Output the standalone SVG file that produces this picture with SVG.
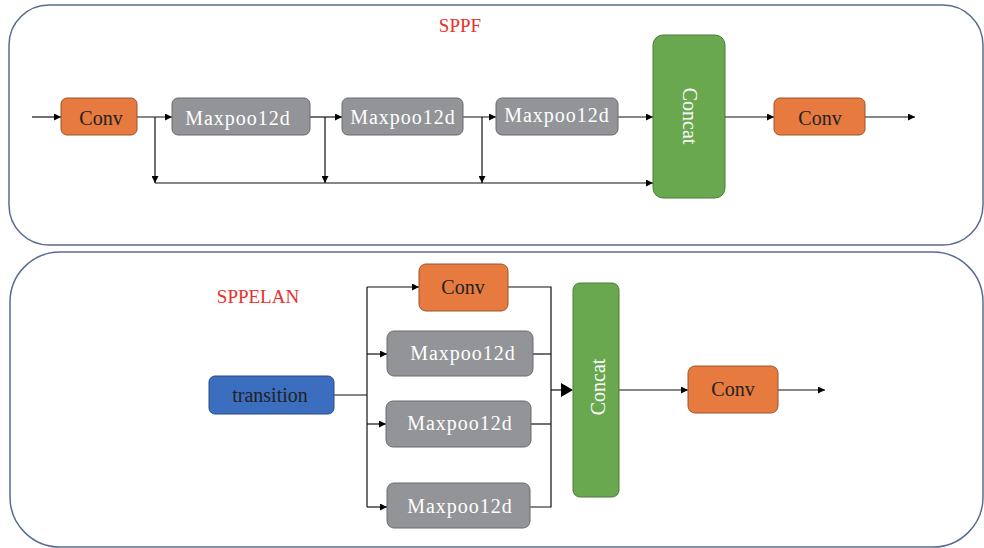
<svg xmlns="http://www.w3.org/2000/svg" width="984" height="548" viewBox="0 0 984 548">
<defs>
<marker id="arr" viewBox="0 0 10 10" refX="10" refY="5" markerWidth="9" markerHeight="7" markerUnits="userSpaceOnUse" orient="auto">
<path d="M0,0 L10,5 L0,10 z" fill="#000"/>
</marker>
</defs>
<style>
.panel{fill:#fff;stroke:#5a6c8f;stroke-width:1.5}
.conv{fill:#e67a3f;stroke:#9a5530;stroke-width:1}
.pool{fill:#939497;stroke:#6b6b6d;stroke-width:1}
.cat{fill:#6aa84f;stroke:#4c7a38;stroke-width:1}
.tr{fill:#3b6ebf;stroke:#2a4c86;stroke-width:1}
.t{font-family:"Liberation Serif","Times New Roman",serif;font-size:20px;text-anchor:middle;dominant-baseline:central}
.dk{fill:#222}
.wh{fill:#fff}
.red{fill:#e8302a;font-size:19px}
.ln{fill:none;stroke:#111;stroke-width:1.2}
</style>
<rect class="panel" x="9" y="5" width="974" height="240" rx="40" ry="40"/>
<rect class="panel" x="10" y="252" width="973" height="295" rx="50" ry="50"/>
<text class="t red" x="460" y="25">SPPF</text>
<text class="t red" x="258" y="296">SPPELAN</text>
<g id="connectors">
<line class="ln" x1="32" y1="117" x2="61" y2="117" marker-end="url(#arr)"/>
<line class="ln" x1="137" y1="117" x2="172" y2="117" marker-end="url(#arr)"/>
<line class="ln" x1="310" y1="117" x2="342" y2="117" marker-end="url(#arr)"/>
<line class="ln" x1="463" y1="117" x2="496" y2="117" marker-end="url(#arr)"/>
<line class="ln" x1="618" y1="117" x2="653" y2="117" marker-end="url(#arr)"/>
<line class="ln" x1="725" y1="117" x2="774" y2="117" marker-end="url(#arr)"/>
<line class="ln" x1="865" y1="117" x2="915" y2="117" marker-end="url(#arr)"/>
<line class="ln" x1="155" y1="117" x2="155" y2="183" marker-end="url(#arr)"/>
<line class="ln" x1="325" y1="117" x2="325" y2="183" marker-end="url(#arr)"/>
<line class="ln" x1="482" y1="117" x2="482" y2="183" marker-end="url(#arr)"/>
<line class="ln" x1="155" y1="183" x2="653" y2="183" marker-end="url(#arr)"/>
<line class="ln" x1="334" y1="395" x2="367" y2="395" stroke-width="2"/>
<line class="ln" x1="367" y1="287" x2="367" y2="507"/>
<line class="ln" x1="367" y1="287" x2="419" y2="287" marker-end="url(#arr)"/>
<line class="ln" x1="367" y1="354" x2="387" y2="354" marker-end="url(#arr)"/>
<line class="ln" x1="367" y1="424" x2="386" y2="424" marker-end="url(#arr)"/>
<line class="ln" x1="367" y1="507" x2="387" y2="507" marker-end="url(#arr)"/>
<polyline class="ln" points="508,287 551,287 551,507 530,507"/>
<line class="ln" x1="533" y1="354" x2="551" y2="354"/>
<line class="ln" x1="531" y1="424" x2="551" y2="424"/>
<line class="ln" x1="551" y1="390" x2="563" y2="390" stroke-width="5"/>
<path d="M561,383 L573,390 L561,397 z" fill="#000"/>
<line class="ln" x1="619" y1="390" x2="688" y2="390" marker-end="url(#arr)"/>
<line class="ln" x1="778" y1="390" x2="825" y2="390" marker-end="url(#arr)"/>
</g>
<g id="sppf-conv1"><rect class="conv" x="61" y="98" width="76" height="37" rx="6"/><text class="t dk" x="101" y="118">Conv</text></g>
<g id="sppf-pool1"><rect class="pool" x="172" y="98" width="138" height="37" rx="6"/><text class="t wh" x="238" y="118" letter-spacing="1">Maxpoo12d</text></g>
<g id="sppf-pool2"><rect class="pool" x="342" y="98" width="121" height="37" rx="6"/><text class="t wh" x="403" y="117" letter-spacing="1">Maxpoo12d</text></g>
<g id="sppf-pool3"><rect class="pool" x="496" y="98" width="122" height="37" rx="6"/><text class="t wh" x="557" y="115" letter-spacing="1">Maxpoo12d</text></g>
<g id="sppf-concat"><rect class="cat" x="653" y="35" width="72" height="163" rx="10"/><text class="t wh" transform="translate(690,116) rotate(90)" x="0" y="0">Concat</text></g>
<g id="sppf-conv2"><rect class="conv" x="774" y="98" width="91" height="37" rx="6"/><text class="t dk" x="820" y="118">Conv</text></g>
<g id="elan-transition"><rect class="tr" x="209" y="376" width="125" height="38" rx="6"/><text class="t dk" x="270" y="395">transition</text></g>
<g id="elan-conv1"><rect class="conv" x="419" y="264" width="89" height="47" rx="7"/><text class="t dk" x="463" y="287">Conv</text></g>
<g id="elan-pool1"><rect class="pool" x="387" y="331" width="146" height="45" rx="7"/><text class="t wh" x="463" y="353" letter-spacing="1">Maxpoo12d</text></g>
<g id="elan-pool2"><rect class="pool" x="386" y="401" width="145" height="46" rx="7"/><text class="t wh" x="460" y="423" letter-spacing="1">Maxpoo12d</text></g>
<g id="elan-pool3"><rect class="pool" x="387" y="483" width="143" height="45" rx="7"/><text class="t wh" x="460" y="506" letter-spacing="1">Maxpoo12d</text></g>
<g id="elan-concat"><rect class="cat" x="573" y="283" width="46" height="214" rx="7"/><text class="t wh" transform="translate(598,387) rotate(-90)" x="0" y="0">Concat</text></g>
<g id="elan-conv2"><rect class="conv" x="688" y="366" width="90" height="47" rx="7"/><text class="t dk" x="733" y="389">Conv</text></g>
</svg>
